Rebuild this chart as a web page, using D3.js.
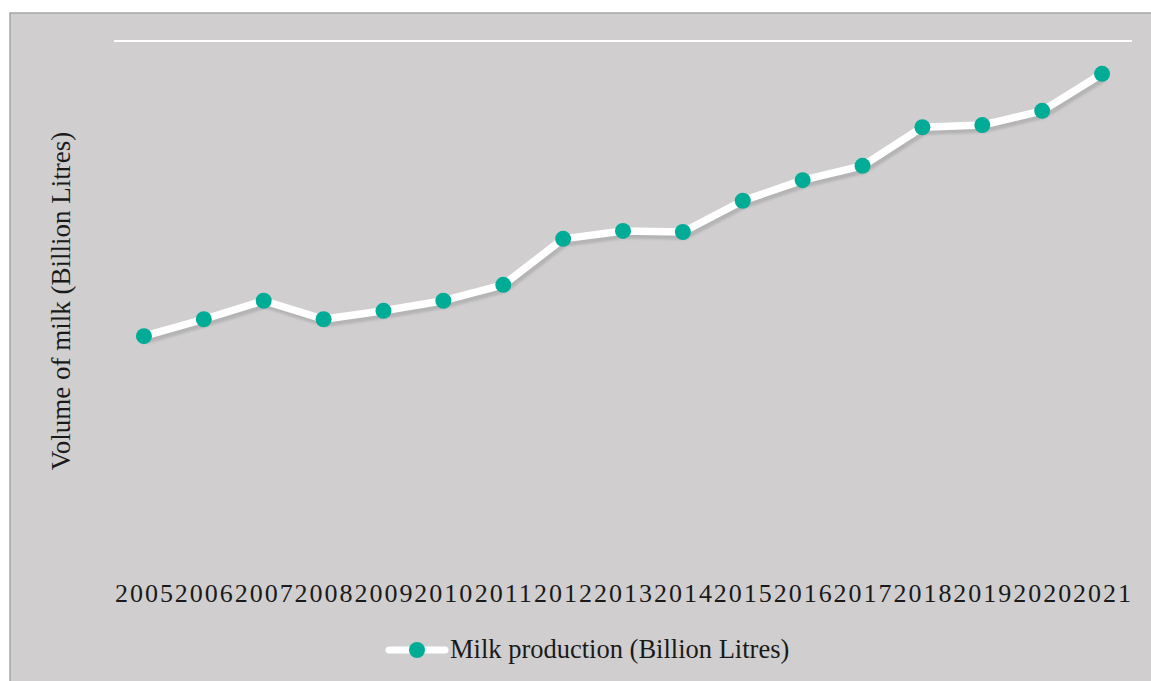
<!DOCTYPE html>
<html>
<head>
<meta charset="utf-8">
<script src="https://cdn.jsdelivr.net/npm/d3@7/dist/d3.min.js"></script>
<style>
  html, body { margin: 0; padding: 0; background: #d0cecf; overflow: hidden; }
  svg { display: block; }
  text { font-family: "Liberation Serif", "DejaVu Serif", serif; fill: #1a1a1a; }
</style>
</head>
<body>
<script>
// Milk production series (billion litres)
const years = ["2005","2006","2007","2008","2009","2010","2011","2012","2013",
               "2014","2015","2016","2017","2018","2019","2020","2021"];
const milkProduction = [4.42, 4.74, 5.09, 4.74, 4.90, 5.09, 5.39, 6.26, 6.41,
                        6.39, 6.98, 7.37, 7.64, 8.37, 8.41, 8.68, 9.38];
const yTicks = [10];
const seriesName = "Milk production (Billion Litres)";
const yTitle = "Volume of milk (Billion Litres)";

const W = 1151, H = 681;
const plot = { left: 114, right: 1132, top: 41, bottom: 570 };

// Canvas a little larger than the window so the chart frame runs off the right and bottom
const svg = d3.select("body").append("svg")
  .attr("width", W + 60).attr("height", H);

// Soft drop shadow under the series line
const defs = svg.append("defs");
const f = defs.append("filter").attr("id", "lineShadow")
  .attr("x", "-5%").attr("y", "-20%").attr("width", "110%").attr("height", "140%");
f.append("feGaussianBlur").attr("stdDeviation", 1);

// Page margin outside the chart frame
svg.append("rect").attr("x", 0).attr("y", 0).attr("width", W + 60).attr("height", 13)
  .attr("fill", "#ffffff");
svg.append("rect").attr("x", 0).attr("y", 0).attr("width", 10).attr("height", H)
  .attr("fill", "#ffffff");

// Chart area background and border
svg.append("rect")
  .attr("x", 10).attr("y", 13).attr("width", W + 40).attr("height", H + 40)
  .attr("fill", "#d0cecf").attr("stroke", "#a6a6a6").attr("stroke-width", 1.5);

const x = d3.scaleBand().domain(years).range([plot.left, plot.right]).padding(0);
const y = d3.scaleLinear().domain([0, 10]).range([plot.bottom, plot.top]);

// Major gridline
svg.append("g").selectAll("line").data(yTicks).join("line")
  .attr("x1", plot.left).attr("x2", plot.right)
  .attr("y1", d => y(d)).attr("y2", d => y(d))
  .attr("stroke", "#ffffff").attr("stroke-width", 2);

// Category axis labels (no line, no ticks)
const xAxis = d3.axisBottom(x).tickSize(0).tickPadding(0);
const gx = svg.append("g")
  .attr("transform", `translate(0, ${plot.bottom})`)
  .call(xAxis);
gx.select(".domain").remove();
gx.selectAll("text")
  .attr("dy", 0).attr("y", 32)
  .style("font-family", '"Liberation Serif", "DejaVu Serif", serif')
  .style("font-size", "26px")
  .style("letter-spacing", "2px")
  .attr("dx", 1)
  .attr("fill", "#1a1a1a");

// Axis title
svg.append("text")
  .attr("transform", `translate(70, 301) rotate(-90)`)
  .attr("text-anchor", "middle")
  .style("font-size", "27px")
  .text(yTitle);

const cx = d => x(d) + x.bandwidth() / 2;
const line = d3.line()
  .x((d, i) => cx(years[i]))
  .y(d => y(d));

// Shadow, line and markers
svg.append("path")
  .datum(milkProduction)
  .attr("d", line)
  .attr("transform", "translate(2,4)")
  .attr("fill", "none")
  .attr("stroke", "#b5b4b5")
  .attr("stroke-width", 7.5)
  .attr("stroke-linejoin", "round")
  .attr("filter", "url(#lineShadow)");

svg.append("path")
  .datum(milkProduction)
  .attr("d", line)
  .attr("fill", "none")
  .attr("stroke", "#ffffff")
  .attr("stroke-width", 7.5)
  .attr("stroke-linejoin", "round");

svg.append("g").selectAll("circle").data(milkProduction).join("circle")
  .attr("cx", (d, i) => cx(years[i]))
  .attr("cy", d => y(d))
  .attr("r", 8)
  .attr("fill", "#00ac96");

// Legend
const lg = svg.append("g").attr("transform", "translate(417, 650)");
lg.append("line")
  .attr("x1", -28).attr("x2", 28).attr("y1", 0).attr("y2", 0)
  .attr("stroke", "#ffffff").attr("stroke-width", 7).attr("stroke-linecap", "round");
lg.append("circle").attr("r", 8).attr("fill", "#00ac96");
lg.append("text")
  .attr("x", 33).attr("y", 8)
  .style("font-size", "26.5px")
  .text(seriesName);
</script>
</body>
</html>
